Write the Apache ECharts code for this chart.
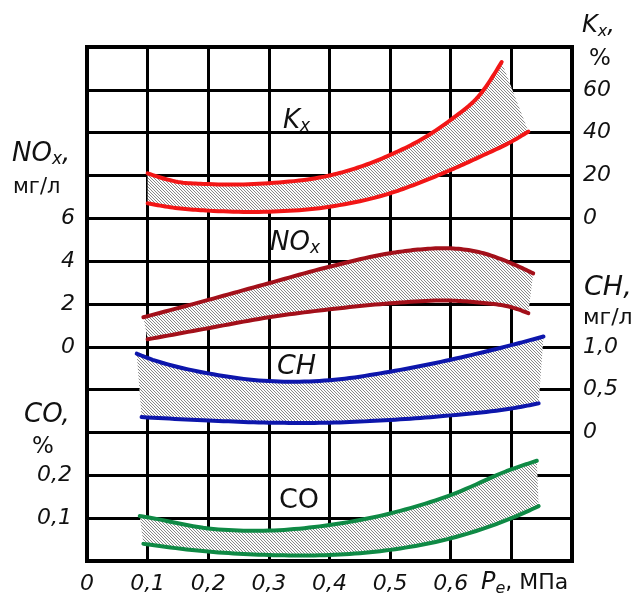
<!DOCTYPE html>
<html><head><meta charset="utf-8">
<script src="https://cdn.jsdelivr.net/npm/echarts@6/dist/echarts.min.js"></script>
<style>html,body{margin:0;padding:0;background:#fff}#c{width:639px;height:599px}</style>
</head><body><div id="c"></div>
<script>
// ---- data (x = P_e, MPa) ----
const kxUpperX = [0.1, 0.15, 0.2, 0.3, 0.4, 0.45, 0.5, 0.55, 0.6, 0.65, 0.684];
const kxUpperY = [21, 17, 16, 16.4, 20, 24, 29.6, 36.6, 46, 58.4, 73];
const kxLowerX = [0.1, 0.15, 0.2, 0.3, 0.4, 0.5, 0.55, 0.6, 0.65, 0.7, 0.728];
const kxLowerY = [7, 4.7, 3.6, 3.1, 5.4, 11.7, 16.8, 22.6, 29, 35.8, 40.5];

const noxUpperX = [0.093, 0.2, 0.3, 0.4, 0.5, 0.55, 0.6, 0.65, 0.7, 0.736];
const noxUpperY = [1.38, 2.19, 2.97, 3.74, 4.37, 4.55, 4.6, 4.4, 3.9, 3.43];
const noxLowerX = [0.1, 0.2, 0.3, 0.4, 0.5, 0.6, 0.65, 0.7, 0.728];
const noxLowerY = [0.35, 0.87, 1.38, 1.75, 2.03, 2.16, 2.06, 1.85, 1.57];

const chUpperX = [0.082, 0.1, 0.2, 0.3, 0.4, 0.5, 0.6, 0.7, 0.753];
const chUpperY = [0.92, 0.87, 0.69, 0.60, 0.61, 0.71, 0.85, 1.02, 1.12];
const chLowerX = [0.09, 0.2, 0.3, 0.4, 0.5, 0.6, 0.7, 0.745];
const chLowerY = [0.18, 0.14, 0.115, 0.115, 0.146, 0.2, 0.28, 0.34];

const coUpperX = [0.087, 0.1, 0.2, 0.3, 0.4, 0.5, 0.6, 0.7, 0.742];
const coUpperY = [0.105, 0.102, 0.076, 0.071, 0.084, 0.111, 0.154, 0.214, 0.234];
const coLowerX = [0.093, 0.2, 0.3, 0.4, 0.5, 0.6, 0.7, 0.745];
const coLowerY = [0.04, 0.022, 0.014, 0.014, 0.026, 0.053, 0.10, 0.128];

// tick labels shown
const xTickLabels = ['0', '0,1', '0,2', '0,3', '0,4', '0,5', '0,6'];
const noxTicks = [0, 2, 4, 6];
const coTicks = [0.1, 0.2];
const kxTicks = [0, 20, 40, 60];
const chTicks = [0, 0.5, 1.0];

const zip = (xs, ys) => xs.map((x, i) => [x, ys[i]]);
const fmt = v => (Math.abs(v - 1) < 1e-9 ? '1,0' : String(+v.toFixed(2)).replace('.', ','));
const hasTick = (arr, v) => arr.some(t => Math.abs(t - v) < 1e-6);

// hatch tile: thin grey "\" diagonals, 3 px period
function makeHatch() {
  const n = 3;
  const c = document.createElement('canvas'); c.width = n; c.height = n;
  const g = c.getContext('2d');
  const img = g.createImageData(n, n);
  for (let y = 0; y < n; y++) for (let x = 0; x < n; x++) {
    const v = x === y ? 135 : 252;
    const k = (y * n + x) * 4;
    img.data[k] = v; img.data[k + 1] = v; img.data[k + 2] = v; img.data[k + 3] = 255;
  }
  g.putImageData(img, 0, 0);
  return c;
}
const hatch = makeHatch();

// smooth rendering of a pixel polyline (x monotonic) with cubic Hermite in x
function smoothPx(p, steps) {
  const n = p.length;
  if (n < 3) return p.slice();
  const s = [];
  for (let i = 0; i < n - 1; i++) s.push((p[i + 1][1] - p[i][1]) / (p[i + 1][0] - p[i][0]));
  const m = new Array(n);
  for (let i = 1; i < n - 1; i++) {
    const h0 = p[i][0] - p[i - 1][0], h1 = p[i + 1][0] - p[i][0];
    m[i] = (s[i - 1] * h1 + s[i] * h0) / (h0 + h1);
  }
  m[0] = (3 * s[0] - m[1]) / 2;
  m[n - 1] = (3 * s[n - 2] - m[n - 2]) / 2;
  const out = [p[0]];
  for (let i = 0; i < n - 1; i++) {
    const x0 = p[i][0], x1 = p[i + 1][0], y0 = p[i][1], y1 = p[i + 1][1], h = x1 - x0;
    for (let k = 1; k <= steps; k++) {
      const t = k / steps, t2 = t * t, t3 = t2 * t;
      const y = (2 * t3 - 3 * t2 + 1) * y0 + (t3 - 2 * t2 + t) * h * m[i] + (-2 * t3 + 3 * t2) * y1 + (t3 - t2) * h * m[i + 1];
      out.push([x0 + h * t, y]);
    }
  }
  return out;
}

const FONT = '"DejaVu Sans", Verdana, sans-serif';
const RED = '#f21616', DRED = '#a3101a', BLUE = '#0d16ac', GREEN = '#0f8a45';

function band(name, yIdx, up, low, color) {
  return {
    name: name, type: 'custom', coordinateSystem: 'cartesian2d', xAxisIndex: 0, yAxisIndex: yIdx,
    clip: false, silent: true, z: 3,
    data: [up[0]],
    renderItem: function (params, api) {
      const U = smoothPx(up.map(p => api.coord(p)), 12);
      const L = smoothPx(low.map(p => api.coord(p)), 12);
      const lineStyle = { stroke: color, lineWidth: 4, fill: null, lineCap: 'round', lineJoin: 'round' };
      return {
        type: 'group', children: [
          { type: 'polygon', shape: { points: U.concat(L.slice().reverse()) }, style: { fill: { image: hatch, repeat: 'repeat' }, stroke: null } },
          { type: 'polyline', shape: { points: U }, style: lineStyle },
          { type: 'polyline', shape: { points: L }, style: lineStyle }
        ]
      };
    }
  };
}

const labelBase = { color: '#111', fontStyle: 'italic', fontSize: 22, fontFamily: FONT };
const gridLine = { show: true, lineStyle: { color: '#000', width: 3 } };
const hidden = { show: false };

const it = (sz) => ({ fontSize: sz, fontStyle: 'italic', fontFamily: FONT, fill: '#111' });
function txt(x, y, text, sz, italic) {
  return { type: 'text', x: x, y: y, z: 10, style: { text: text, fontSize: sz, fontStyle: italic ? 'italic' : 'normal', fontFamily: FONT, fill: '#111', verticalAlign: 'middle', align: 'left' } };
}
function sub(x, y, main, s, tail, sz, ssz) {
  const rich = { i: it(sz), s: Object.assign(it(ssz), { padding: [Math.round(sz * 0.45), 0, 0, 0] }) };
  return { type: 'text', x: x, y: y, z: 10, style: { text: '{i|' + main + '}{s|' + s + '}' + (tail ? '{i|' + tail + '}' : ''), rich: rich, verticalAlign: 'middle', align: 'left' } };
}

const chart = echarts.init(document.getElementById('c'));
chart.setOption({
  animation: false,
  backgroundColor: '#fff',
  grid: { left: 87, right: 67, top: 47, bottom: 38, show: true, borderColor: '#000', borderWidth: 4, backgroundColor: '#fff', z: 0 },
  xAxis: {
    type: 'value', min: 0, max: 0.8, interval: 0.1,
    axisLine: hidden, axisTick: hidden, splitLine: gridLine,
    axisLabel: Object.assign({}, labelBase, { margin: 12, showMaxLabel: false,
      formatter: v => { const i = Math.round(v * 10); return i < xTickLabels.length ? xTickLabels[i] : ''; } })
  },
  yAxis: [
    { name: 'NOx', type: 'value', position: 'left', min: -10, max: 14, interval: 2,
      axisLine: hidden, axisTick: hidden, splitLine: gridLine,
      axisLabel: Object.assign({}, labelBase, { margin: 12, padding: [14, 0, 0, 0], formatter: v => hasTick(noxTicks, v) ? fmt(v) : '' }) },
    { name: 'CO', type: 'value', position: 'left', min: 0, max: 1.2, interval: 0.1,
      axisLine: hidden, axisTick: hidden, splitLine: hidden,
      axisLabel: Object.assign({}, labelBase, { margin: 15, padding: [10, 0, 0, 0], formatter: v => hasTick(coTicks, v) ? fmt(v) : '' }) },
    { name: 'Kx', type: 'value', position: 'right', min: -160, max: 80, interval: 20,
      axisLine: hidden, axisTick: hidden, splitLine: hidden,
      axisLabel: Object.assign({}, labelBase, { margin: 11, padding: [4, 0, 0, 0], formatter: v => hasTick(kxTicks, v) ? fmt(v) : '' }) },
    { name: 'CH', type: 'value', position: 'right', min: -1.5, max: 4.5, interval: 0.5,
      axisLine: hidden, axisTick: hidden, splitLine: hidden,
      axisLabel: Object.assign({}, labelBase, { margin: 11, padding: [10, 0, 0, 0], formatter: v => hasTick(chTicks, v) ? fmt(v) : '' }) }
  ].map(a => Object.assign(a, { nameTextStyle: { fontSize: 0 } })),
  series: [
    band('Kx', 2, zip(kxUpperX, kxUpperY), zip(kxLowerX, kxLowerY), RED),
    band('NOx', 0, zip(noxUpperX, noxUpperY), zip(noxLowerX, noxLowerY), DRED),
    band('CH', 3, zip(chUpperX, chUpperY), zip(chLowerX, chLowerY), BLUE),
    band('CO', 1, zip(coUpperX, coUpperY), zip(coLowerX, coLowerY), GREEN)
  ],
  graphic: [
    sub(582, 26, 'K', 'x', ',', 24, 16),
    txt(589, 59, '%', 23, false),
    sub(12, 154, 'NO', 'x', ',', 26, 17),
    txt(13, 188, 'мг/л', 21, false),
    txt(24, 415, 'CO,', 26, true),
    txt(32, 447, '%', 23, false),
    txt(584, 288, 'CH,', 27, true),
    txt(583, 318, 'мг/л', 22, false),
    { type: 'text', x: 481, y: 583, z: 10, style: { text: '{i|P}{s|e}{n|, МПа}', verticalAlign: 'middle', align: 'left',
      rich: { i: it(24), s: Object.assign(it(16), { padding: [12, 0, 0, 0] }), n: { fontSize: 22, fontFamily: FONT, fill: '#111' } } } },
    sub(283, 121, 'K', 'x', '', 26, 17),
    sub(270, 243, 'NO', 'x', '', 26, 17),
    txt(277, 367, 'CH', 27, true),
    txt(279, 501, 'CO', 27, false)
  ]
});
</script></body></html>
